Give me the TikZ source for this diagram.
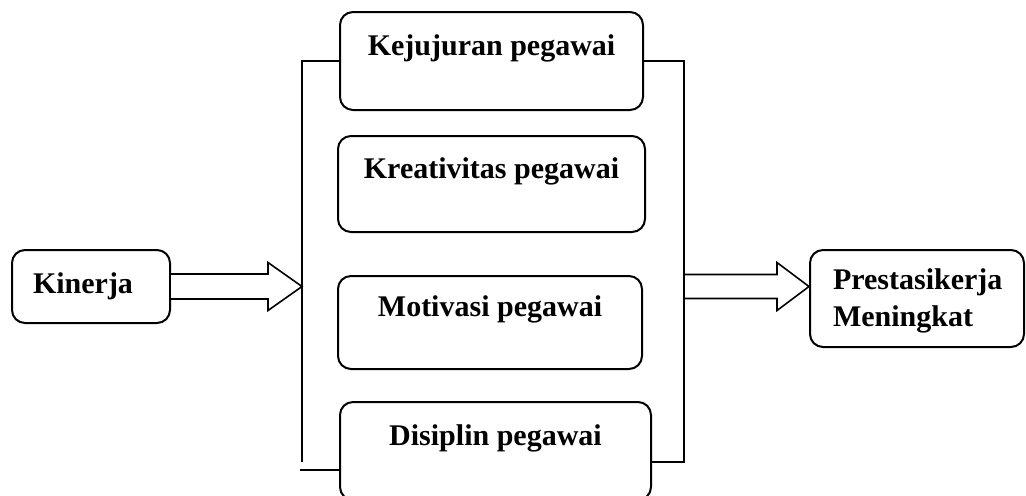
\documentclass[tikz,border=0pt]{standalone}
\usepackage{fontspec}
\setmainfont{Liberation Serif}
\tikzset{
    %Define style for boxes
    kotak/.style={
           rectangle,
           rounded corners=6.5pt,
           draw=black, line width=1pt,
           font=\fontsize{15}{18.5}\selectfont\bfseries,
           inner sep=0pt},
    %Define style for the boxes in the middle column
    faktor/.style={
           kotak,
           text height=10pt,
           text depth=16pt},
    % Define style for the hollow block arrows
    blok/.style={
           draw=black,
           line width=0.8pt,
           fill=white},
    % Define style for the bracket lines
    garis/.style={
           line width=1pt}
}

\begin{document}
\begin{tikzpicture}[x=0.5pt, y=-0.5pt]
		\clip (0,0) rectangle (1026,495);
		\node[kotak, text width=58pt, inner xsep=10.5pt, minimum height=36.5pt, align=left] (kinerja) at (91,286.5) {Kinerja};
		\node[faktor, minimum width=151.5pt, minimum height=49pt] (kejujuran) at (491.5,61) {Kejujuran pegawai};
		\node[faktor, minimum width=153.5pt, minimum height=48pt] (kreativitas) at (491.5,184) {Kreativitas pegawai};
		\node[faktor, minimum width=152pt, minimum height=46.5pt] (motivasi) at (490,322.5) {Motivasi pegawai};
		\node[faktor, minimum width=155.5pt, minimum height=49pt] (disiplin) at (495.5,451) {Disiplin pegawai};
		\node[kotak, text width=84pt, inner xsep=11.5pt, text height=13pt, minimum height=48.5pt, align=left] (prestasi) at (917,298.5) {Prestasikerja\\Meningkat};
		% block arrows
		\coordinate (masuk) at (302,286.5);
		\coordinate (keluar) at (684,286.5);
		\coordinate (ujung) at (keluar -| prestasi.west);
		\draw[blok] ([yshift=6.25pt]kinerja.east) -- ([xshift=-17pt,yshift=6.25pt]masuk) -- ([xshift=-17pt,yshift=12pt]masuk) -- (masuk) -- ([xshift=-17pt,yshift=-12pt]masuk) -- ([xshift=-17pt,yshift=-6.25pt]masuk) -- ([yshift=-6.25pt]kinerja.east);
		\draw[blok] ([yshift=6pt]keluar) -- ([xshift=-16pt,yshift=6pt]ujung) -- ([xshift=-16pt,yshift=12pt]ujung) -- (ujung) -- ([xshift=-16pt,yshift=-12pt]ujung) -- ([xshift=-16pt,yshift=-6pt]ujung) -- ([yshift=-6pt]keluar);
		% bracket round the middle column
		\coordinate (kiribawah) at (302,462);
		\coordinate (kiriluar) at (300,470);
		\coordinate (kananbawah) at (684,462);
		\draw[garis] (kejujuran.west) -| (kiribawah);
		\draw[garis] (kiriluar) -- (kiriluar -| disiplin.west);
		\draw[garis] (kejujuran.east) -| (kananbawah) -- (kananbawah -| disiplin.east);
	\end{tikzpicture}
\end{document}
